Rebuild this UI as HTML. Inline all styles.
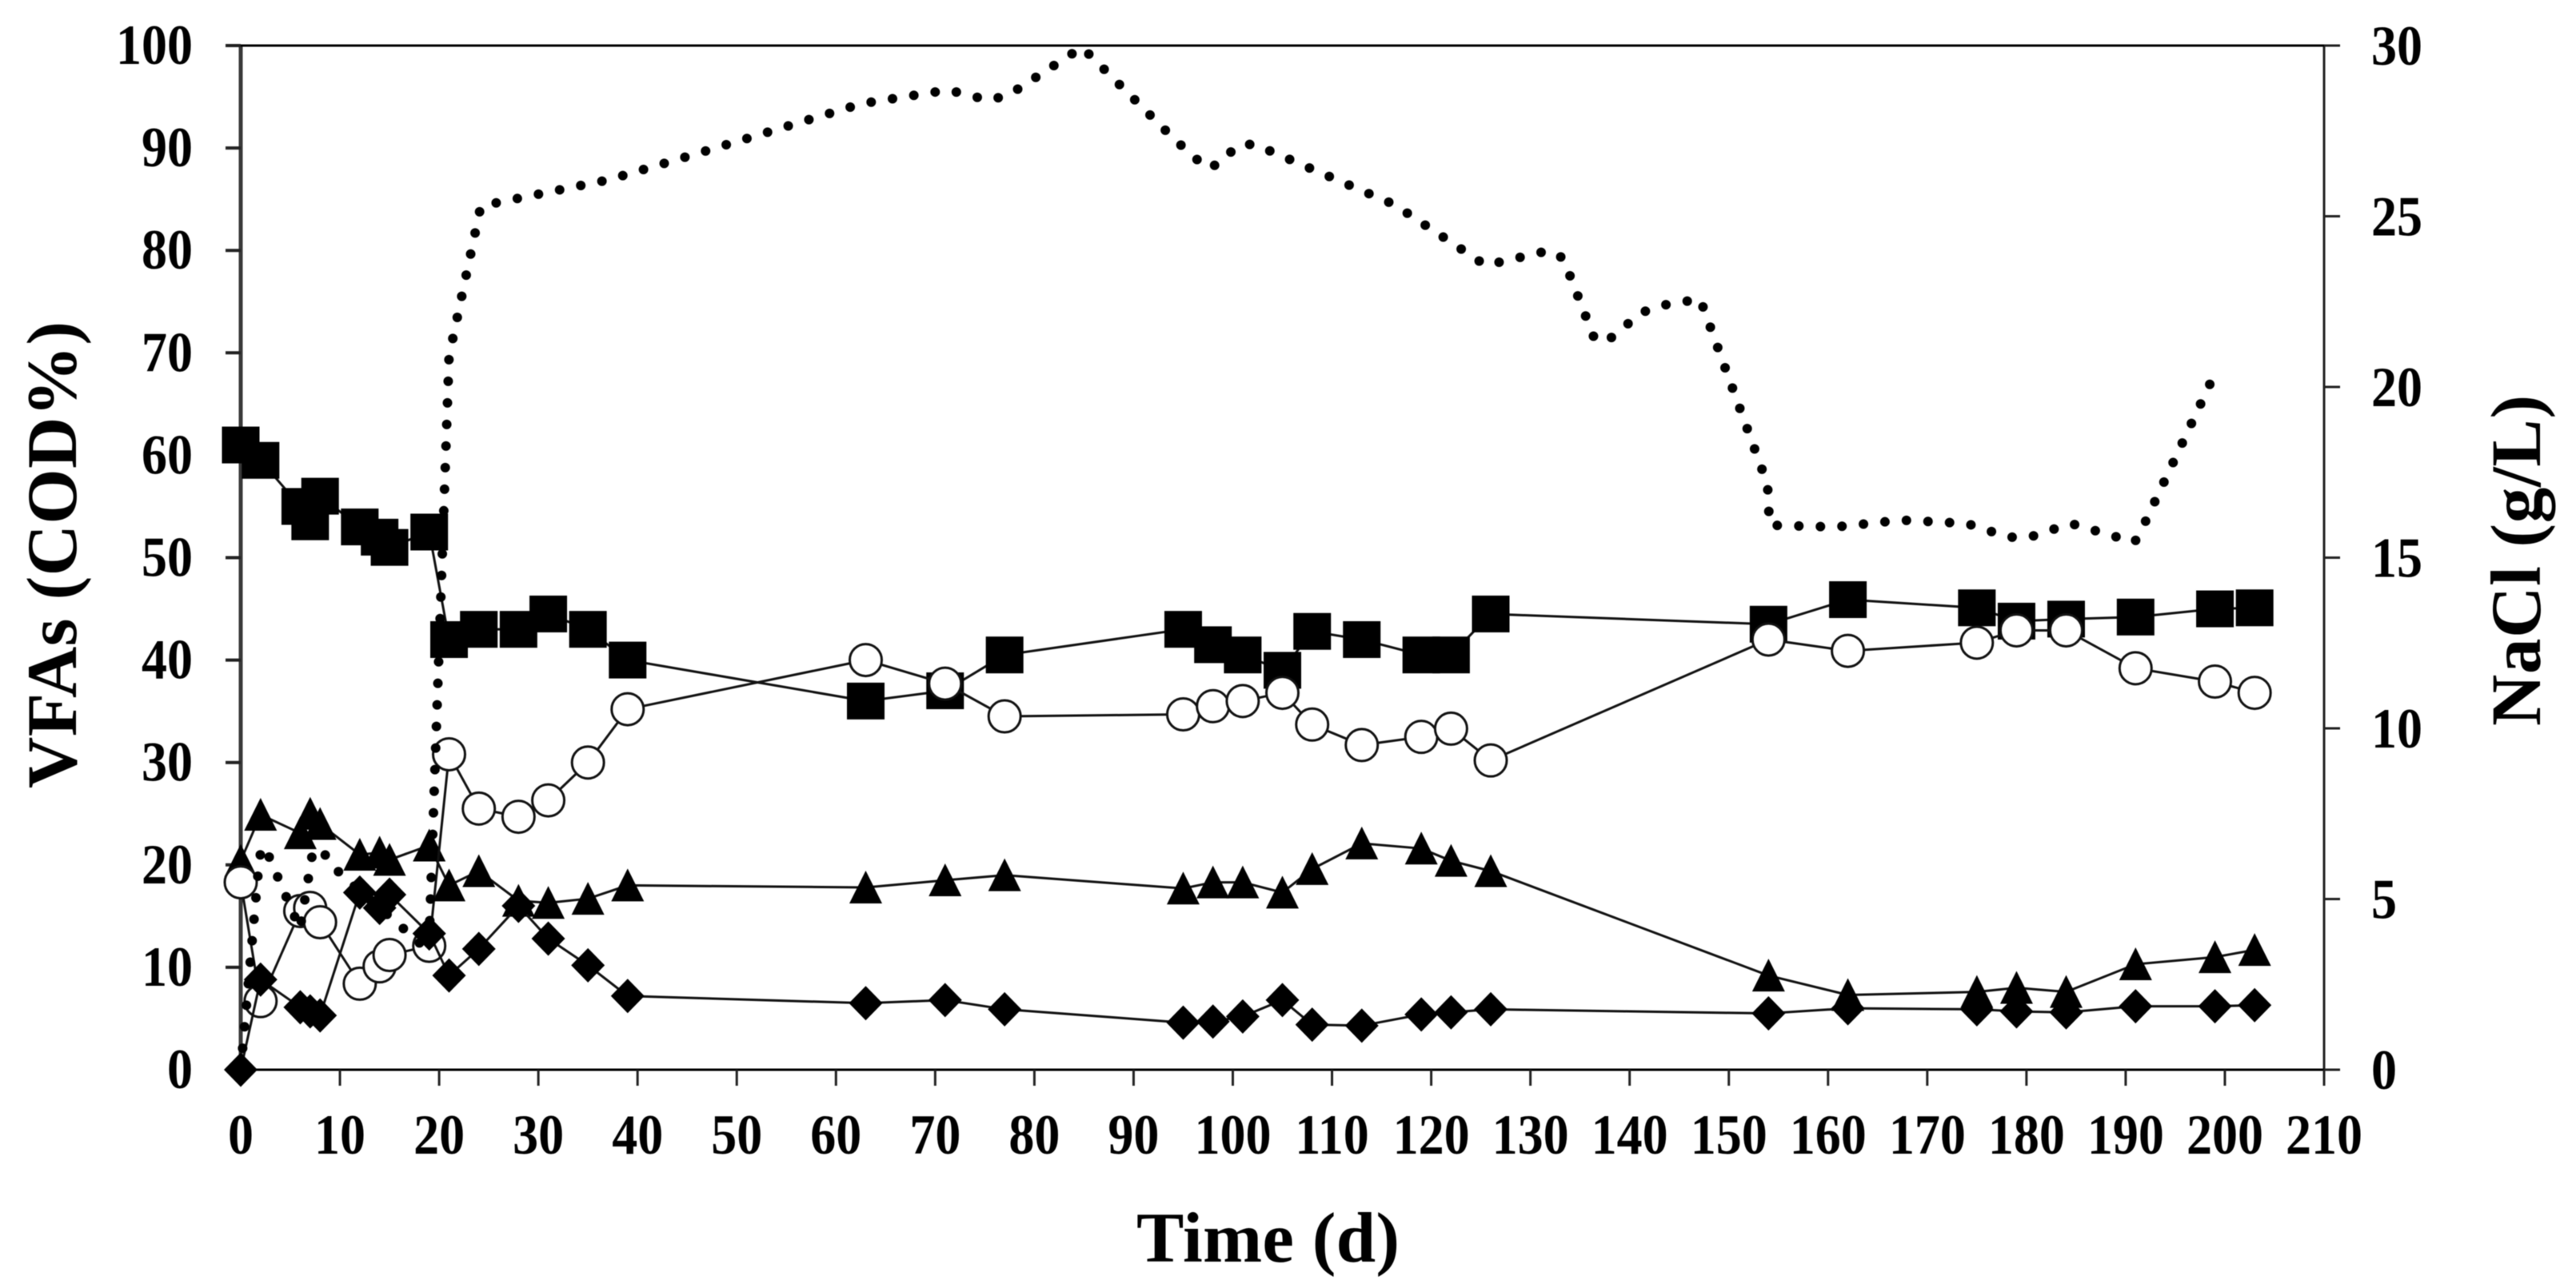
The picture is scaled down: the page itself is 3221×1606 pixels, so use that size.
<!DOCTYPE html>
<html lang="en">
<head>
<meta charset="utf-8">
<title>VFAs and NaCl over time</title>
<style>
html,body{margin:0;padding:0;background:#fff;}
svg{display:block;filter:blur(0.6px);}
text{font-family:"Liberation Serif",serif;font-weight:bold;fill:#000;}
</style>
</head>
<body>
<svg id="chart" xmlns="http://www.w3.org/2000/svg" width="3221" height="1606" viewBox="0 0 3221 1606">
  <rect x="0" y="0" width="3221" height="1606" fill="#ffffff"/>
  <g id="axes"></g>
  <g id="series"></g>
  <text x="1585.5" y="1578" font-size="89" text-anchor="middle" textLength="329" lengthAdjust="spacing">Time (d)</text>
  <text transform="translate(95,694) rotate(-90)" font-size="89" text-anchor="middle" textLength="584" lengthAdjust="spacing">VFAs (COD%)</text>
  <text transform="translate(3176,701) rotate(-90)" font-size="89" text-anchor="middle" textLength="414" lengthAdjust="spacing">NaCl (g/L)</text>
</svg>
<script>
const xTicks = [0,10,20,30,40,50,60,70,80,90,100,110,120,130,140,150,160,170,180,190,200,210];
const leftTicks = [0,10,20,30,40,50,60,70,80,90,100];
const rightTicks = [0,5,10,15,20,25,30];

const days = [0,2,6,7,8,12,14,15,19,21,24,28,31,35,39,63,71,77,95,98,101,105,108,113,119,122,126,154,162,175,179,184,191,199,203];
const squareValues = [61,59.5,55,53.5,56,53,52,51,52.5,42,43,43,44.5,43,40,36,37,40.5,43,41.5,40.5,39,42.8,42,40.5,40.5,44.5,43.5,45.9,45.1,43.8,44,44.2,45,45.1];
const circleValues = [18.3,6.7,15.5,15.8,14.4,8.4,10.1,11.2,12.1,30.8,25.5,24.7,26.3,30,35.2,40,37.7,34.5,34.7,35.5,36,36.8,33.7,31.7,32.5,33.3,30.2,42,40.9,41.7,42.9,42.9,39.2,37.9,36.8];
const triangleValues = [20.4,24.9,23.1,25,24,21,21.2,20.5,21.9,18,19.4,16.5,16.3,16.7,18,17.8,18.5,19,17.7,18.3,18.3,17.3,19.6,22.1,21.6,20.4,19.4,9.2,7.3,7.6,8,7.6,10.3,11,11.7];
const diamondValues = [0,8.8,6.1,5.7,5.3,17.3,15.8,17.1,13.3,9.2,11.8,16,12.8,10.2,7.2,6.5,6.8,5.9,4.6,4.7,5.2,6.8,4.4,4.3,5.4,5.6,5.9,5.5,6,5.9,5.7,5.6,6.2,6.2,6.3];

const naclDays = [0,1.9,2.4,5.97,7.3,8.8,10,16,18.95,21,24.2,37.1,45.6,62.6,71.3,75.4,77.4,84.8,94.1,97.4,98.9,100.3,102.1,116.3,125.5,131.9,133.3,136.5,137.8,141.2,143.3,147.1,153.9,154.1,160.8,167.4,174,178.2,180.3,184.5,190.9,191.9,199];
const naclValues = [0,6.25,6.55,4.12,6.46,6.25,5.74,4.24,3.47,20.9,25.3,26.07,26.8,28.3,28.7,28.4,28.55,29.95,27.26,26.4,26.58,27.05,27.12,25.34,23.56,24,23.77,21.38,21.36,22.18,22.39,22.58,17.14,15.95,15.9,16.1,16,15.6,15.6,16,15.45,16,20.4];

const NS = "http://www.w3.org/2000/svg";
const plotLeft = 301, plotRight = 2906, plotTop = 57, plotBottom = 1338;
const xScale = d => plotLeft + d * (plotRight - plotLeft) / 210;
const yLeft = v => plotBottom - v * (plotBottom - plotTop) / 100;
const yRight = v => plotBottom - v * (plotBottom - plotTop) / 30;

const axes = document.getElementById("axes");
const seriesRoot = document.getElementById("series");

function make(tag, parent, attrs) {
  const el = document.createElementNS(NS, tag);
  for (const k in attrs) el.setAttribute(k, attrs[k]);
  parent.appendChild(el);
  return el;
}
function tickLabel(parent, x, baseline, str, anchor) {
  const el = make("text", parent, {"font-size": 64, "text-anchor": anchor, transform: "translate(" + x + "," + baseline + ") scale(1,1.11)"});
  el.textContent = str;
  return el;
}

/* axis lines */
const leftAxis = make("line", axes, {x1: plotLeft, x2: plotLeft, y1: plotTop, y2: plotBottom, stroke: "#3a3a3a", "stroke-width": 5});


const rightAxis = make("line", axes, {x1: plotRight, x2: plotRight, y1: plotTop, y2: plotBottom, stroke: "#222", "stroke-width": 3});


const topLine = make("line", axes, {x1: plotLeft, x2: plotRight, y1: plotTop, y2: plotTop, stroke: "#000", "stroke-width": 3});


const xAxis = make("line", axes, {x1: plotLeft, x2: plotRight, y1: plotBottom, y2: plotBottom, stroke: "#000", "stroke-width": 3});



/* ticks and tick labels */
xTicks.forEach(t => {
  const tick = make("line", axes, {x1: xScale(t), x2: xScale(t), y1: plotBottom, y2: plotBottom + 20, stroke: "#222", "stroke-width": 3});
  
  
  const label = tickLabel(axes, xScale(t), 1443, String(t), "middle");
  
  
});
leftTicks.forEach(t => {
  const tick = make("line", axes, {x1: plotLeft - 19, x2: plotLeft, y1: yLeft(t), y2: yLeft(t), stroke: "#222", "stroke-width": 4});
  
  
  const label = tickLabel(axes, 241, yLeft(t) + 23, String(t), "end");
  
  
});
rightTicks.forEach(t => {
  const tick = make("line", axes, {x1: plotRight, x2: plotRight + 20, y1: yRight(t), y2: yRight(t), stroke: "#222", "stroke-width": 3});
  
  
  const label = tickLabel(axes, 2965, yRight(t) + 24, String(t), "start");
  
  
});

/* marker shapes */
function drawSquare(g, x, y) {
  return make("rect", g, {x: x - 23.5, y: y - 23, width: 47, height: 46, fill: "#000"});
}
function drawCircle(g, x, y) {
  return make("circle", g, {cx: x, cy: y, r: 20, fill: "#fff", stroke: "#111", "stroke-width": 3});
}
function drawTriangle(g, x, y) {
  return make("polygon", g, {points: x + "," + (y - 21) + " " + (x + 20.5) + "," + (y + 20) + " " + (x - 20.5) + "," + (y + 20), fill: "#000"});
}
function drawDiamond(g, x, y) {
  return make("polygon", g, {points: x + "," + (y - 21.5) + " " + (x + 21) + "," + y + " " + x + "," + (y + 21.5) + " " + (x - 21) + "," + y, fill: "#000"});
}

function drawSeries(name, values, drawMarker) {
  const g = make("g", seriesRoot, {});
  
  
  const line = make("polyline", g, {
    points: values.map((v, i) => xScale(days[i]) + "," + yLeft(v)).join(" "),
    fill: "none", stroke: "#111", "stroke-width": 3
  });
  
  
  values.forEach((v, i) => {
    const mark = drawMarker(g, xScale(days[i]), yLeft(v));
    
    
  });
}

drawSeries("square", squareValues, drawSquare);
drawSeries("triangle", triangleValues, drawTriangle);
drawSeries("circle", circleValues, drawCircle);
drawSeries("diamond", diamondValues, drawDiamond);

const naclLine = make("polyline", seriesRoot, {
  points: naclValues.map((v, i) => xScale(naclDays[i]) + "," + yRight(v)).join(" "),
  fill: "none", stroke: "#000", "stroke-width": 12, "stroke-linecap": "round", "stroke-linejoin": "round", "stroke-dasharray": "0 27"
});


</script>
</body>
</html>
